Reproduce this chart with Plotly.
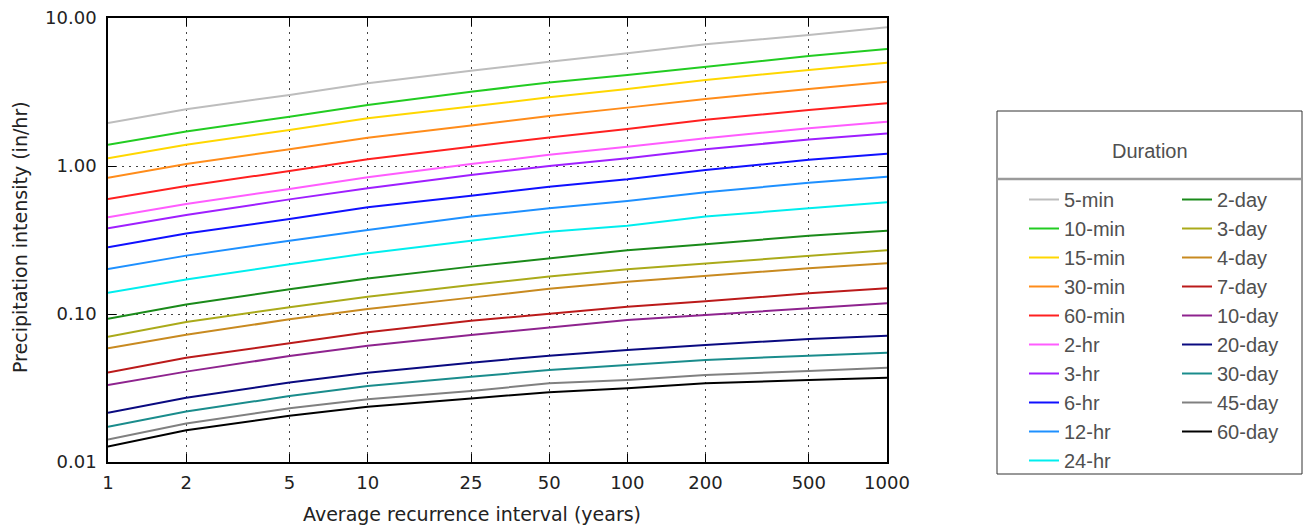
import plotly.graph_objects as go

intervals = [1, 2, 5, 10, 25, 50, 100, 200, 500, 1000]
x_tick_labels = ["1", "2", "5", "10", "25", "50", "100", "200", "500", "1000"]
y_tick_vals = [0.01, 0.1, 1, 10]
y_tick_labels = ["0.01", "0.10", "1.00", "10.00"]

durations_col1 = ["5-min", "10-min", "15-min", "30-min", "60-min", "2-hr", "3-hr", "6-hr", "12-hr", "24-hr"]
durations_col2 = ["2-day", "3-day", "4-day", "7-day", "10-day", "20-day", "30-day", "45-day", "60-day"]

min5 = [1.95, 2.42, 3.02, 3.62, 4.40, 5.07, 5.77, 6.64, 7.67, 8.65]
min10 = [1.39, 1.71, 2.15, 2.58, 3.18, 3.66, 4.12, 4.69, 5.53, 6.18]
min15 = [1.13, 1.39, 1.75, 2.10, 2.52, 2.91, 3.31, 3.81, 4.45, 4.99]
min30 = [0.834, 1.03, 1.30, 1.55, 1.88, 2.18, 2.48, 2.84, 3.31, 3.71]
min60 = [0.598, 0.733, 0.925, 1.11, 1.35, 1.56, 1.78, 2.05, 2.39, 2.65]
hr2 = [0.45, 0.554, 0.70, 0.84, 1.03, 1.19, 1.35, 1.54, 1.80, 1.99]
hr3 = [0.38, 0.467, 0.595, 0.707, 0.869, 1.00, 1.13, 1.30, 1.51, 1.66]
hr6 = [0.282, 0.35, 0.438, 0.526, 0.63, 0.725, 0.813, 0.94, 1.10, 1.21]
hr12 = [0.201, 0.248, 0.313, 0.37, 0.455, 0.518, 0.58, 0.664, 0.771, 0.847]
hr24 = [0.139, 0.171, 0.217, 0.257, 0.313, 0.36, 0.395, 0.455, 0.518, 0.569]
day2 = [0.093, 0.116, 0.147, 0.174, 0.209, 0.238, 0.27, 0.296, 0.338, 0.365]
day3 = [0.0703, 0.0883, 0.111, 0.131, 0.157, 0.179, 0.201, 0.22, 0.247, 0.27]
day4 = [0.0586, 0.0725, 0.092, 0.108, 0.129, 0.148, 0.165, 0.181, 0.204, 0.22]
day7 = [0.0403, 0.0507, 0.0634, 0.0752, 0.0901, 0.101, 0.112, 0.122, 0.138, 0.149]
day10 = [0.0331, 0.0408, 0.052, 0.061, 0.0721, 0.0807, 0.091, 0.0985, 0.109, 0.118]
day20 = [0.0215, 0.0272, 0.0344, 0.0401, 0.0469, 0.0523, 0.0571, 0.0618, 0.0678, 0.0714]
day30 = [0.0173, 0.0219, 0.0279, 0.0326, 0.0377, 0.0418, 0.0452, 0.0489, 0.0523, 0.0548]
day45 = [0.0142, 0.0182, 0.0231, 0.0265, 0.0302, 0.034, 0.0358, 0.0387, 0.0412, 0.0434]
day60 = [0.0127, 0.0164, 0.0205, 0.0236, 0.0269, 0.0296, 0.0315, 0.034, 0.0358, 0.0371]

values_col1 = [min5, min10, min15, min30, min60, hr2, hr3, hr6, hr12, hr24]
values_col2 = [day2, day3, day4, day7, day10, day20, day30, day45, day60]

colors_col1 = ["#bdbdbd", "#22cc22", "#ffd700", "#ff8c1a", "#ff2020",
               "#ff5cff", "#9f1fff", "#1010ff", "#1e90ff", "#00eeee"]
colors_col2 = ["#1a8a1a", "#aaaa1a", "#c88a20", "#bb1a1a", "#8e238e",
               "#0a0a80", "#1a8c8c", "#808080", "#000000"]

fig = go.Figure()
for name, vals, col in zip(durations_col1, values_col1, colors_col1):
    fig.add_trace(go.Scatter(x=intervals, y=vals, mode="lines", name=name,
                             line=dict(color=col, width=2), legend="legend"))
for name, vals, col in zip(durations_col2, values_col2, colors_col2):
    fig.add_trace(go.Scatter(x=intervals, y=vals, mode="lines", name=name,
                             line=dict(color=col, width=2), legend="legend2"))

# page body has an 8px margin: the figure is placed at (8, 8) in the window
OFF = 8
W, H = 1312 - OFF, 529 - OFF
L, T = 108 - OFF, 18 - OFF
R = W - (887 - OFF)
B = H - (462 - OFF)
pw, ph = W - L - R, H - T - B

def px_x(p):
    return (p - OFF - L) / pw

def px_y(p):
    return (H - B - (p - OFF)) / ph

axis_font = dict(family="DejaVu Sans", size=18, color="#222222")
legend_font = dict(family="Liberation Sans, Arial", size=20, color="#505050")

common_axis = dict(
    showline=True, linecolor="black", linewidth=1.5, mirror="ticks",
    ticks="inside", ticklen=8, tickwidth=1, tickcolor="black",
    showgrid=True, gridcolor="#444444", gridwidth=1, griddash="2px,5px",
    zeroline=False, tickfont=axis_font, ticklabeloverflow="allow",
)

fig.update_xaxes(type="log", range=[0, 3], tickvals=intervals, ticktext=x_tick_labels,
                 ticklabelstandoff=4, **common_axis)
fig.update_yaxes(type="log", range=[-2, 1.0000001], tickvals=y_tick_vals, ticktext=y_tick_labels,
                 ticklabelstandoff=6, **common_axis)

legend_top = px_y(180)
fig.update_layout(
    width=W, height=H,
    margin=dict(l=L, r=R, t=T, b=B, autoexpand=False),
    paper_bgcolor="white", plot_bgcolor="white",
    showlegend=True,
    legend=dict(x=px_x(1024), xanchor="left", y=legend_top, yanchor="top",
                bgcolor="rgba(0,0,0,0)", borderwidth=0, font=legend_font,
                traceorder="normal"),
    legend2=dict(x=px_x(1177), xanchor="left", y=legend_top, yanchor="top",
                 bgcolor="rgba(0,0,0,0)", borderwidth=0, font=legend_font,
                 traceorder="normal"),
    shapes=[
        dict(type="rect", xref="paper", yref="paper",
             x0=px_x(997), x1=px_x(1302), y0=px_y(474), y1=px_y(111),
             line=dict(color="#333333", width=1), fillcolor="white", layer="below"),
        dict(type="line", xref="paper", yref="paper",
             x0=px_x(997), x1=px_x(1302), y0=px_y(179), y1=px_y(179),
             line=dict(color="#9a9a9a", width=2.5)),
    ],
    annotations=[
        dict(text="Duration", xref="paper", yref="paper", x=px_x(1150), y=px_y(151),
             xanchor="center", yanchor="middle", showarrow=False, font=legend_font),
        dict(text="Average recurrence interval (years)", xref="paper", yref="paper",
             x=px_x(472), y=px_y(514), xanchor="center", yanchor="middle",
             showarrow=False, font=dict(family="DejaVu Sans", size=19, color="#222222")),
        dict(text="Precipitation intensity (in/hr)", xref="paper", yref="paper",
             x=px_x(20), y=px_y(237), xanchor="center", yanchor="middle", textangle=-90,
             showarrow=False, font=dict(family="DejaVu Sans", size=19, color="#222222")),
    ],
)

fig.write_html("out.html")
